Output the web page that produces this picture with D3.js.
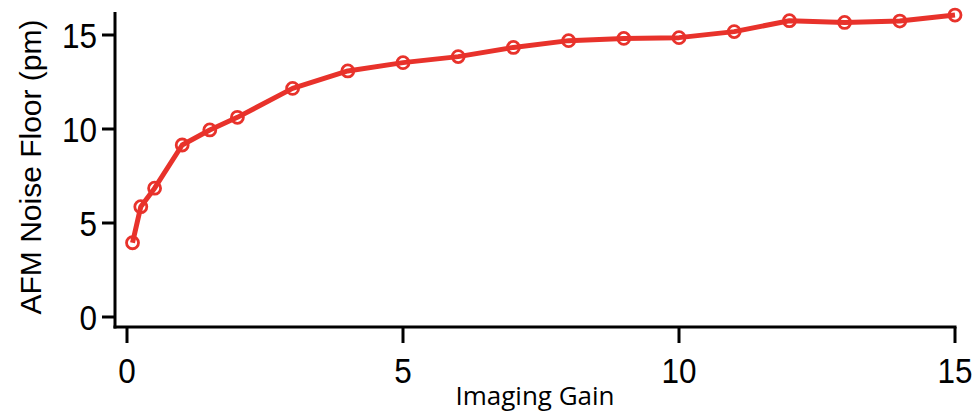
<!DOCTYPE html>
<html>
<head>
<meta charset="utf-8">
<script src="https://cdn.jsdelivr.net/npm/d3@7"></script>
<style>
  body { margin: 0; background: #fff; }
  svg { display: block; }
</style>
</head>
<body>
<div id="chart"></div>
<script>
// data
const gain = [0.1, 0.25, 0.5, 1, 1.5, 2, 3, 4, 5, 6, 7, 8, 9, 10, 11, 12, 13, 14, 15];
const noise = [3.95, 5.87, 6.85, 9.15, 9.95, 10.62, 12.16, 13.09, 13.53, 13.85, 14.34, 14.70, 14.82, 14.86, 15.18, 15.76, 15.67, 15.74, 16.06];
const xTicks = [0, 5, 10, 15];
const yTicks = [0, 5, 10, 15];

const width = 980, height = 416;
const red = '#e8322b';
const numFont = 'Liberation Sans, Arial, sans-serif';

const svg = d3.select('#chart').append('svg')
    .attr('width', width)
    .attr('height', height);

const x = d3.scaleLinear().domain([0, 15]).range([127, 955]);
const y = d3.scaleLinear().domain([0, 15]).range([317, 35]);

const axisY = 115, axisX = 327;

//Axes lines
svg.append('line')
    .attr('x1', axisY).attr('x2', axisY)
    .attr('y1', 12).attr('y2', axisX + 1.5)
    .attr('stroke', '#000').attr('stroke-width', 3);

svg.append('line')
    .attr('x1', axisY - 1.5).attr('x2', x(15) + 1.5)
    .attr('y1', axisX).attr('y2', axisX)
    .attr('stroke', '#000').attr('stroke-width', 3);

//Y ticks
const yt = svg.append('g').selectAll('g')
    .data(yTicks)
    .enter().append('g');

yt.append('line')
    .attr('x1', axisY - 13).attr('x2', axisY)
    .attr('y1', d => y(d)).attr('y2', d => y(d))
    .attr('stroke', '#000').attr('stroke-width', 3);

yt.append('text')
    .attr('transform', d => `translate(97, ${y(d)}) scale(0.9, 1)`)
    .attr('dy', '0.36em')
    .attr('text-anchor', 'end')
    .attr('font-family', numFont)
    .attr('font-size', 35)
    .text(d => d);

//X ticks
const xt = svg.append('g').selectAll('g')
    .data(xTicks)
    .enter().append('g');

xt.append('line')
    .attr('x1', d => x(d)).attr('x2', d => x(d))
    .attr('y1', axisX).attr('y2', axisX + 16)
    .attr('stroke', '#000').attr('stroke-width', 3);

xt.append('text')
    .attr('transform', d => `translate(${x(d)}, 383) scale(0.9, 1)`)
    .attr('text-anchor', 'middle')
    .attr('font-family', numFont)
    .attr('font-size', 35)
    .text(d => d);

//Axis titles
svg.append('text')
    .attr('transform', 'translate(41, 167) rotate(-90)')
    .attr('text-anchor', 'middle')
    .attr('font-family', numFont)
    .attr('font-size', 30)
    .text('AFM Noise Floor (pm)');

svg.append('text')
    .attr('x', 535)
    .attr('y', 405)
    .attr('text-anchor', 'middle')
    .attr('font-family', 'Open Sans, sans-serif')
    .attr('font-size', 26)
    .text('Imaging Gain');

//Line and markers
const pts = gain.map((g, i) => [g, noise[i]]);

svg.append('path')
    .datum(pts)
    .attr('fill', 'none')
    .attr('stroke', red)
    .attr('stroke-width', 5)
    .attr('stroke-linejoin', 'round')
    .attr('d', d3.line().x(d => x(d[0])).y(d => y(d[1])));

svg.append('g')
    .selectAll('circle')
    .data(pts)
    .enter().append('circle')
    .attr('cx', d => x(d[0]))
    .attr('cy', d => y(d[1]))
    .attr('r', 6)
    .attr('fill', 'none')
    .attr('stroke', red)
    .attr('stroke-width', 2.8);
</script>
</body>
</html>
